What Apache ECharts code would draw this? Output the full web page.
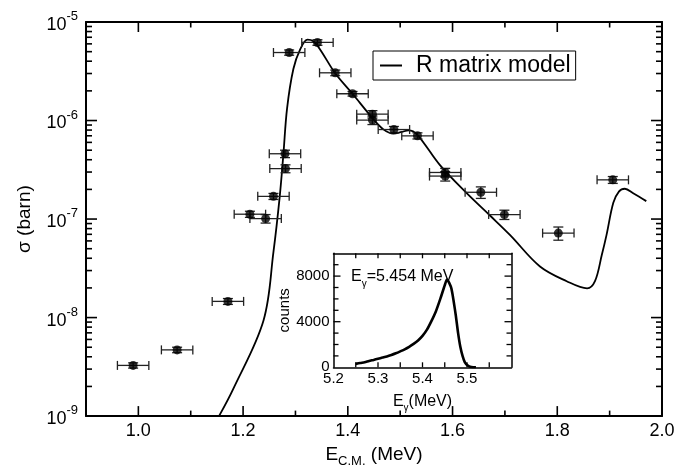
<!DOCTYPE html>
<html>
<head>
<meta charset="utf-8">
<script src="https://cdn.jsdelivr.net/npm/echarts@6/dist/echarts.min.js"></script>
<style>html,body{margin:0;padding:0;background:#fff}#c{width:678px;height:473px}</style>
</head>
<body>
<div id="c"></div>
<script>
// ---- Measured data points (E c.m. in MeV, sigma in barn) ----
const dataE = [0.990, 1.074, 1.171, 1.213, 1.243, 1.258, 1.280, 1.281, 1.288, 1.342, 1.376,
               1.409, 1.447, 1.447, 1.488, 1.533, 1.586, 1.586, 1.654, 1.699, 1.802, 1.906];
const dataSigma = [3.27e-9, 4.7e-9, 1.46e-8, 1.12e-7, 1.01e-7, 1.70e-7, 4.6e-7, 3.25e-7, 4.9e-6, 6.2e-6, 3.05e-6,
                   1.87e-6, 1.16e-6, 1.01e-6, 8.1e-7, 7.0e-7, 2.97e-7, 2.73e-7, 1.87e-7, 1.11e-7, 7.2e-8, 2.5e-7];
const dataSigmaErr = [0.2e-9, 0.3e-9, 0.1e-8, 0.08e-7, 0.1e-7, 0.12e-7, 0.4e-7, 0.3e-7, 0.3e-6, 0.4e-6, 0.2e-6,
                      0.1e-6, 0.1e-6, 0.1e-6, 0.6e-7, 0.5e-7, 0.3e-7, 0.3e-7, 0.25e-7, 0.12e-7, 1.1e-8, 0.2e-7];
const dataEErr = [0.03, 0.03, 0.03, 0.03, 0.03, 0.03, 0.03, 0.03, 0.03, 0.03, 0.03,
                  0.03, 0.03, 0.03, 0.03, 0.03, 0.03, 0.03, 0.03, 0.03, 0.03, 0.03];

// ---- R matrix model curve ----
const modelE = [1.154, 1.181, 1.239, 1.258, 1.270, 1.277, 1.284, 1.296, 1.309, 1.323, 1.334, 1.347, 1.3755,
                1.409, 1.447, 1.468, 1.487, 1.503, 1.516, 1.532, 1.576, 1.627, 1.672, 1.710, 1.767, 1.818,
                1.857, 1.872, 1.885, 1.894, 1.907, 1.918, 1.929, 1.945, 1.970];
const modelSigma = [1.0e-9, 1.88e-9, 9.35e-9, 4.65e-8, 1.70e-7, 4.58e-7, 1.33e-6, 3.33e-6, 5.27e-6, 6.62e-6, 6.37e-6, 5.27e-6, 3.04e-6,
                    1.87e-6, 1.06e-6, 8.13e-7, 7.36e-7, 7.66e-7, 7.94e-7, 7.24e-7, 3.52e-7, 1.83e-7, 1.08e-7, 6.87e-8, 3.30e-8, 2.34e-8,
                    1.98e-8, 2.34e-8, 4.31e-8, 6.87e-8, 1.46e-7, 1.91e-7, 2.03e-7, 1.83e-7, 1.52e-7];

// ---- Inset spectrum ----
const insetE = [5.250, 5.260, 5.270, 5.280, 5.290, 5.300, 5.310, 5.320, 5.330, 5.340, 5.350, 5.360, 5.370,
                5.380, 5.390, 5.400, 5.410, 5.420, 5.430, 5.440, 5.450, 5.455, 5.460, 5.465, 5.470, 5.475,
                5.480, 5.485, 5.490, 5.495, 5.500, 5.505, 5.510, 5.520];
const insetCounts = [300, 380, 440, 560, 650, 750, 850, 950, 1080, 1230, 1400, 1580, 1800,
                     2050, 2350, 2750, 3300, 4050, 4900, 6000, 7200, 7700, 7400, 6900, 5800, 4500,
                     3000, 1800, 1000, 450, 200, 80, 30, 0];

// ---- Axis ranges, tick positions / labels ----
const mainXRange = [0.9, 2.0];
const mainYRange = [1e-9, 1e-5];
const insetXRange = [5.2, 5.6];
const insetYRange = [0, 10000];
const xMajorTicks = [1.0, 1.2, 1.4, 1.6, 1.8];
const xMinorTicks = [1.1, 1.3, 1.5, 1.7, 1.9];
const yMajorTicks = [1e-8, 1e-7, 1e-6];
const yMinorTicks = [];
for (let d = -9; d <= -6; d++) for (let m = 2; m <= 9; m++) yMinorTicks.push(+(m + 'e' + d));
const xLabels = [1.0, 1.2, 1.4, 1.6, 1.8, 2.0];
const insetXTicks = [5.25, 5.30, 5.35, 5.40, 5.45, 5.50, 5.55];
const insetYMinorTicks = [1000, 2000, 3000, 5000, 6000, 7000, 9000];
const insetYMajorTicks = [4000, 8000];
const insetXLabels = [5.2, 5.3, 5.4, 5.5];
const insetYLabels = [0, 4000, 8000];

const FONT = 'Liberation Sans, Arial, Helvetica, sans-serif';
const chart = echarts.init(document.getElementById('c'), null, {renderer: 'canvas'});

const frame = {color: '#000', width: 2};
const frameInset = {color: '#000', width: 1.5};

// tick items: [xValue, yValue, length, kind]  kind 0 = tick on x axes, 1 = tick on y axes
const mainMidX = 1.45, mainMidY = 1e-7, insetMidX = 5.4, insetMidY = 5000;
const mainTickData = []
  .concat(xMajorTicks.map(v => [v, mainMidY, 10, 0]))
  .concat(xMinorTicks.map(v => [v, mainMidY, 5.5, 0]))
  .concat(yMajorTicks.map(v => [mainMidX, v, 11, 1]))
  .concat(yMinorTicks.map(v => [mainMidX, v, 6, 1]));
const insetTickData = []
  .concat(insetXTicks.map(v => [v, insetMidY, 5, 0]))
  .concat(insetYMinorTicks.map(v => [insetMidX, v, 5, 1]))
  .concat(insetYMajorTicks.map(v => [insetMidX, v, 7, 1]));

function tickRenderer(xr, yr, width) {
  return function (params, api) {
    const xv = api.value(0), yv = api.value(1), len = api.value(2), kind = api.value(3);
    const st = {stroke: '#000', lineWidth: width};
    if (kind === 0) {
      const b = api.coord([xv, yr[0]]), t = api.coord([xv, yr[1]]);
      return {type: 'group', children: [
        {type: 'line', shape: {x1: b[0], y1: b[1], x2: b[0], y2: b[1] - len}, style: st},
        {type: 'line', shape: {x1: t[0], y1: t[1], x2: t[0], y2: t[1] + len}, style: st}
      ]};
    }
    const l = api.coord([xr[0], yv]), r = api.coord([xr[1], yv]);
    return {type: 'group', children: [
      {type: 'line', shape: {x1: l[0], y1: l[1], x2: l[0] + len, y2: l[1]}, style: st},
      {type: 'line', shape: {x1: r[0], y1: r[1], x2: r[0] - len, y2: r[1]}, style: st}
    ]};
  };
}

const errData = dataE.map((e, i) => [e, dataSigma[i], dataEErr[i], dataSigmaErr[i]]);

const option = {
  animation: false,
  backgroundColor: '#fff',
  textStyle: {fontFamily: FONT},
  title: [{
    text: '{e|E}{s|γ}{e|=5.454 MeV}', left: 346, top: 260,
    textStyle: {fontWeight: 'normal', rich: {
      e: {fontSize: 16, fontFamily: FONT, fontWeight: 'normal', color: '#000', verticalAlign: 'bottom', lineHeight: 20},
      s: {fontSize: 10, fontFamily: FONT, fontWeight: 'normal', color: '#000', verticalAlign: 'bottom', lineHeight: 10, padding: [0, 0, -4, 0]}
    }}
  }],
  legend: {
    data: [{name: 'R matrix model', icon: 'rect'}], left: 373, top: 51,
    borderColor: '#000', borderWidth: 1, borderRadius: 0,
    padding: [3, 5, 3, 7], itemWidth: 22, itemHeight: 2,
    textStyle: {fontSize: 23, fontFamily: FONT, color: '#000', padding: [0, 0, 0, 9]}
  },
  grid: [
    {left: 86, top: 22, right: 16, bottom: 49, containLabel: false},
    {left: 333.5, top: 253.3, width: 178, height: 114, show: true, backgroundColor: '#fff', borderWidth: 0, containLabel: false}
  ],
  xAxis: [
    {
      gridIndex: 0, type: 'value', min: mainXRange[0], max: mainXRange[1], interval: 0.1, position: 'bottom',
      axisLine: {show: true, onZero: false, lineStyle: frame},
      axisTick: {show: false},
      axisLabel: {show: true, customValues: xLabels, formatter: v => v.toFixed(1), fontSize: 18, color: '#000', fontFamily: FONT, margin: 6},
      splitLine: {show: false},
      name: '{e|E}{s|C.M.}{e| (MeV)}', nameLocation: 'middle', nameGap: 22,
      nameTextStyle: {rich: {
        e: {fontSize: 19, fontFamily: FONT, color: '#000', verticalAlign: 'bottom', lineHeight: 24},
        s: {fontSize: 13, fontFamily: FONT, color: '#000', verticalAlign: 'bottom', lineHeight: 13, padding: [0, 0, -4, 0]}
      }}
    },
    {
      gridIndex: 0, type: 'value', min: mainXRange[0], max: mainXRange[1], interval: 0.1, position: 'top',
      axisLine: {show: true, onZero: false, lineStyle: frame},
      axisTick: {show: false}, axisLabel: {show: false}, splitLine: {show: false}
    },
    {
      gridIndex: 1, type: 'value', min: insetXRange[0], max: insetXRange[1], interval: 0.05, position: 'bottom',
      axisLine: {show: true, onZero: false, lineStyle: frameInset},
      axisTick: {show: false},
      axisLabel: {show: true, customValues: insetXLabels, formatter: v => v.toFixed(1), fontSize: 15, fontFamily: FONT, color: '#000', margin: 4},
      splitLine: {show: false},
      name: '{e|E}{s|γ}{e|(MeV)}', nameLocation: 'middle', nameGap: 22,
      nameTextStyle: {rich: {
        e: {fontSize: 16, fontFamily: FONT, color: '#000', verticalAlign: 'bottom', lineHeight: 20},
        s: {fontSize: 10, fontFamily: FONT, color: '#000', verticalAlign: 'bottom', lineHeight: 10, padding: [0, 0, -4, 0]}
      }}
    },
    {
      gridIndex: 1, type: 'value', min: insetXRange[0], max: insetXRange[1], interval: 0.05, position: 'top',
      axisLine: {show: true, onZero: false, lineStyle: frameInset},
      axisTick: {show: false}, axisLabel: {show: false}, splitLine: {show: false}
    }
  ],
  yAxis: [
    {
      gridIndex: 0, type: 'log', logBase: 10, min: mainYRange[0], max: mainYRange[1], position: 'left',
      axisLine: {show: true, onZero: false, lineStyle: frame},
      axisTick: {show: false},
      axisLabel: {
        show: true, margin: 8, color: '#000',
        formatter: v => '{b|10}{s|' + Math.round(Math.log10(v)) + '}',
        rich: {
          b: {fontSize: 18, fontFamily: FONT, color: '#000', verticalAlign: 'bottom', lineHeight: 24},
          s: {fontSize: 13, fontFamily: FONT, color: '#000', verticalAlign: 'top', lineHeight: 14}
        }
      },
      splitLine: {show: false},
      name: 'σ (barn)', nameLocation: 'middle', nameGap: 52,
      nameTextStyle: {fontSize: 19, fontFamily: FONT, color: '#000'}
    },
    {
      gridIndex: 0, type: 'log', logBase: 10, min: mainYRange[0], max: mainYRange[1], position: 'right',
      axisLine: {show: true, onZero: false, lineStyle: frame},
      axisTick: {show: false}, axisLabel: {show: false}, splitLine: {show: false}
    },
    {
      gridIndex: 1, type: 'value', min: insetYRange[0], max: insetYRange[1], interval: 1000, position: 'left',
      axisLine: {show: true, onZero: false, lineStyle: frameInset},
      axisTick: {show: false},
      axisLabel: {show: true, customValues: insetYLabels, formatter: v => String(v), fontSize: 15, fontFamily: FONT, color: '#000', margin: 4},
      splitLine: {show: false},
      name: 'counts', nameLocation: 'middle', nameGap: 40,
      nameTextStyle: {fontSize: 15, fontFamily: FONT, color: '#000'}
    },
    {
      gridIndex: 1, type: 'value', min: insetYRange[0], max: insetYRange[1], interval: 1000, position: 'right',
      axisLine: {show: true, onZero: false, lineStyle: frameInset},
      axisTick: {show: false}, axisLabel: {show: false}, splitLine: {show: false}
    }
  ],
  series: [
    {
      name: 'R matrix model', type: 'line', xAxisIndex: 0, yAxisIndex: 0,
      data: modelE.map((e, i) => [e, modelSigma[i]]),
      smooth: 0.35, symbol: 'none', showSymbol: false,
      lineStyle: {color: '#000', width: 1.8}, itemStyle: {color: '#000'}, z: 3
    },
    {
      name: 'errors', type: 'custom', xAxisIndex: 0, yAxisIndex: 0,
      data: errData, encode: {x: 0, y: 1}, z: 4,
      renderItem: function (params, api) {
        const x = api.value(0), y = api.value(1), dx = api.value(2), dy = api.value(3);
        const pL = api.coord([x - dx, y]), pR = api.coord([x + dx, y]);
        const pT = api.coord([x, y + dy]), pB = api.coord([x, y - dy]);
        const st = {stroke: '#222', lineWidth: 1.3};
        const cap = 4.5, capV = 5;
        return {type: 'group', children: [
          {type: 'line', shape: {x1: pL[0], y1: pL[1], x2: pR[0], y2: pR[1]}, style: st},
          {type: 'line', shape: {x1: pL[0], y1: pL[1] - cap, x2: pL[0], y2: pL[1] + cap}, style: st},
          {type: 'line', shape: {x1: pR[0], y1: pR[1] - cap, x2: pR[0], y2: pR[1] + cap}, style: st},
          {type: 'line', shape: {x1: pT[0], y1: pT[1], x2: pB[0], y2: pB[1]}, style: st},
          {type: 'line', shape: {x1: pT[0] - capV, y1: pT[1], x2: pT[0] + capV, y2: pT[1]}, style: st},
          {type: 'line', shape: {x1: pB[0] - capV, y1: pB[1], x2: pB[0] + capV, y2: pB[1]}, style: st}
        ]};
      }
    },
    {
      name: 'data', type: 'scatter', xAxisIndex: 0, yAxisIndex: 0,
      data: dataE.map((e, i) => [e, dataSigma[i]]),
      symbol: 'circle', symbolSize: 9, itemStyle: {color: '#000'}, z: 5
    },
    {
      name: 'mainTicks', type: 'custom', xAxisIndex: 0, yAxisIndex: 0,
      data: mainTickData, encode: {x: 0, y: 1}, z: 7,
      renderItem: tickRenderer(mainXRange, mainYRange, 1.6)
    },
    {
      name: 'spectrum', type: 'line', xAxisIndex: 2, yAxisIndex: 2,
      data: insetE.map((e, i) => [e, insetCounts[i]]),
      smooth: 0.25, symbol: 'none', showSymbol: false,
      lineStyle: {color: '#000', width: 2.6}, z: 6
    },
    {
      name: 'insetTicks', type: 'custom', xAxisIndex: 2, yAxisIndex: 2,
      data: insetTickData, encode: {x: 0, y: 1}, z: 7,
      renderItem: tickRenderer(insetXRange, insetYRange, 1.3)
    }
  ]
};
chart.setOption(option);
</script>
</body>
</html>
